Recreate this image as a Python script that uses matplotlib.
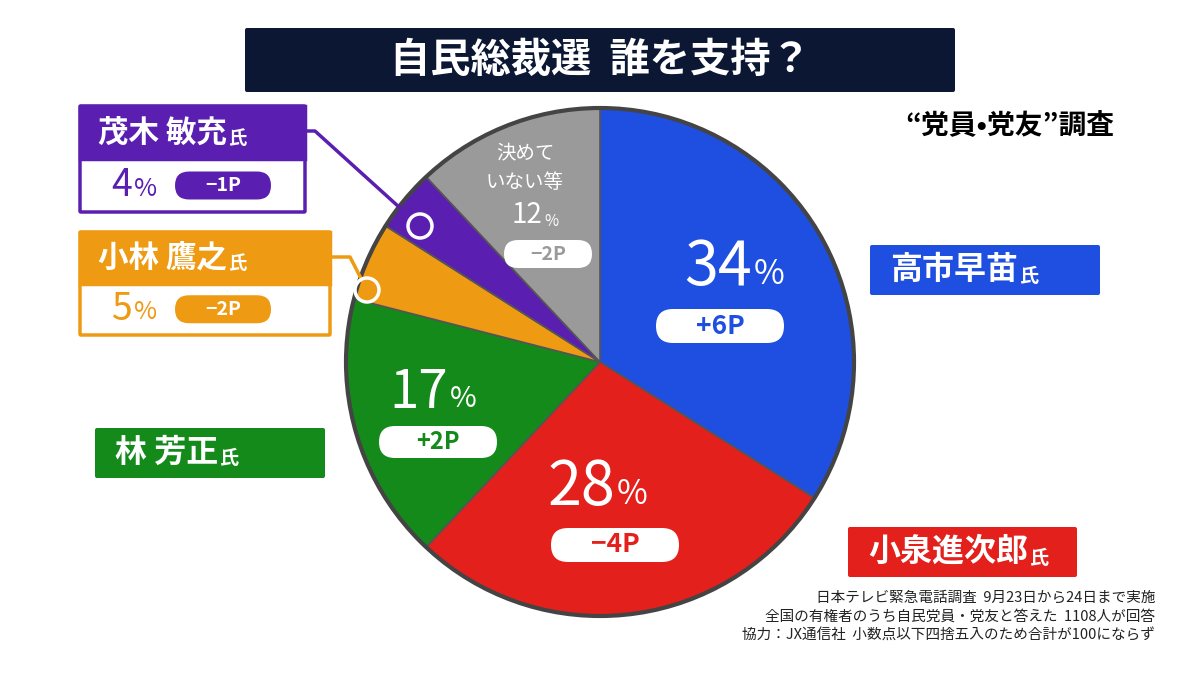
import matplotlib.pyplot as plt
from matplotlib.patches import FancyBboxPatch, Rectangle, Circle

plt.rcParams['font.family'] = ['Noto Sans CJK JP', 'DejaVu Sans']

names = ['高市早苗', '小泉進次郎', '林 芳正', '小林 鷹之', '茂木 敏充', '決めていない等']
shares = [34, 28, 17, 5, 4, 12]
changes = ['+6P', '−4P', '+2P', '−2P', '−1P', '−2P']
colors = ['#1f4fe0', '#e3201b', '#138a1a', '#ee9a12', '#5a1fb0', '#9a9a9a']

H = 675
fig = plt.figure(figsize=(12, 6.75), dpi=100)
ax = fig.add_axes([0, 0, 1, 1])
renderer = fig.canvas.get_renderer()

def Y(y):
    return H - y

cx, cy, r = 600, 362, 254
ax.pie(shares, colors=colors, startangle=90, counterclock=False, center=(cx, Y(cy)),
       radius=r, wedgeprops=dict(edgecolor='#555555', linewidth=1.2), frame=True)
ax.add_patch(Circle((cx, Y(cy)), r, fill=False, ec='#444444', lw=3))
ax.set_xlim(0, 1200)
ax.set_ylim(0, H)
ax.axis('off')

def box(x0, y0, x1, y1, fc, ec=None, lw=0, rad=3):
    ax.add_patch(FancyBboxPatch((x0, Y(y1)), x1 - x0, y1 - y0,
                                boxstyle=f'round,pad=0,rounding_size={rad}',
                                fc=fc, ec=ec or fc, lw=lw))

def pill(x, y, w, h, txt, fc, tc, fs):
    box(x - w / 2, y - h / 2, x + w / 2, y + h / 2, fc, rad=h / 2)
    ax.text(x, Y(y), txt, color=tc, fontsize=fs, ha='center', va='center', fontweight='bold')

def right_edge(t):
    bb = t.get_window_extent(renderer)
    return bb.x1

def name_with_shi(x, y, name, fs, col='white'):
    t = ax.text(x, Y(y), name, color=col, fontsize=fs, ha='left', va='center', fontweight='bold')
    xe = right_edge(t)
    ax.text(xe + 1, Y(y + 6), '氏', color=col, fontsize=fs * 0.6, ha='left', va='center',
            fontweight='bold')

# title
box(245, 28, 955, 92, '#0b1733', rad=2)
ax.text(600, Y(60), '自民総裁選  誰を支持？', color='white', fontsize=29, ha='center',
        va='center', fontweight='bold')
ax.text(1010, Y(125), '“党員•党友”調査', fontsize=20, ha='center', va='center', fontweight='bold')

def pct(x, y, v, fs, col='white'):
    ax.text(x, Y(y), f'{v}', color=col, fontsize=fs, ha='right', va='center')
    ax.text(x + 2, Y(y + 6), '%', color=col, fontsize=fs * 0.55, ha='left', va='center')

pct(752, 268, shares[0], 44)
pill(720, 326, 128, 34, changes[0], 'white', colors[0], 19)
pct(615, 488, shares[1], 44)
pill(615, 545, 128, 34, changes[1], 'white', colors[1], 19)
pct(448, 393, shares[2], 38)
pill(438, 442, 118, 32, changes[2], 'white', colors[2], 17)
ax.text(525, Y(153), '決めて', color='white', fontsize=14, ha='center', va='center')
ax.text(525, Y(183), 'いない等', color='white', fontsize=14, ha='center', va='center')
pct(542, 215, shares[5], 20)
pill(548, 254, 88, 28, changes[5], 'white', colors[5], 14)

def name_box(x0, y0, x1, y1, name, col):
    box(x0, y0, x1, y1, col, rad=2)
    name_with_shi(x0 + 20, (y0 + y1) / 2, name, 23)

name_box(870, 245, 1100, 295, names[0], colors[0])
name_box(848, 527, 1077, 577, names[1], colors[1])
name_box(95, 428, 325, 478, names[2], colors[2])

def small_box(x0, y0, x1, y1, idx, px, py, lx, ly):
    col = colors[idx]
    ym = (y0 + y1) / 2
    ax.plot([x1, lx, px], [Y(ly), Y(ly), Y(py)], color=col, lw=2.5, zorder=2)
    ax.add_patch(Circle((px, Y(py)), 12, fc='none', ec='white', lw=2.5, zorder=3))
    box(x0, y0, x1, y1, 'white', ec=col, lw=2.5, rad=1)
    ax.add_patch(Rectangle((x0, Y(ym)), x1 - x0, ym - y0, fc=col, ec=col, lw=2.5))
    name_with_shi(x0 + 18, (y0 + ym) / 2, names[idx], 22)
    ax.text(x0 + 52, Y((ym + y1) / 2), f'{shares[idx]}', color=col, fontsize=27,
            ha='right', va='center')
    ax.text(x0 + 54, Y((ym + y1) / 2 + 3), '%', color=col, fontsize=18, ha='left', va='center')
    pill(x0 + 143, (ym + y1) / 2, 96, 28, changes[idx], col, 'white', 14)

small_box(80, 106, 305, 212, 4, 420, 226, 315, 131)
small_box(80, 232, 330, 335, 3, 367, 290, 350, 257)

notes = ['日本テレビ緊急電話調査  9月23日から24日まで実施',
         '全国の有権者のうち自民党員・党友と答えた  1108人が回答',
         '協力：JX通信社  小数点以下四捨五入のため合計が100にならず']
for i, t in enumerate(notes):
    ax.text(1155, Y(598 + i * 19), t, fontsize=10.5, ha='right', va='center', color='#222222')

fig.savefig('out.png', dpi=100)
